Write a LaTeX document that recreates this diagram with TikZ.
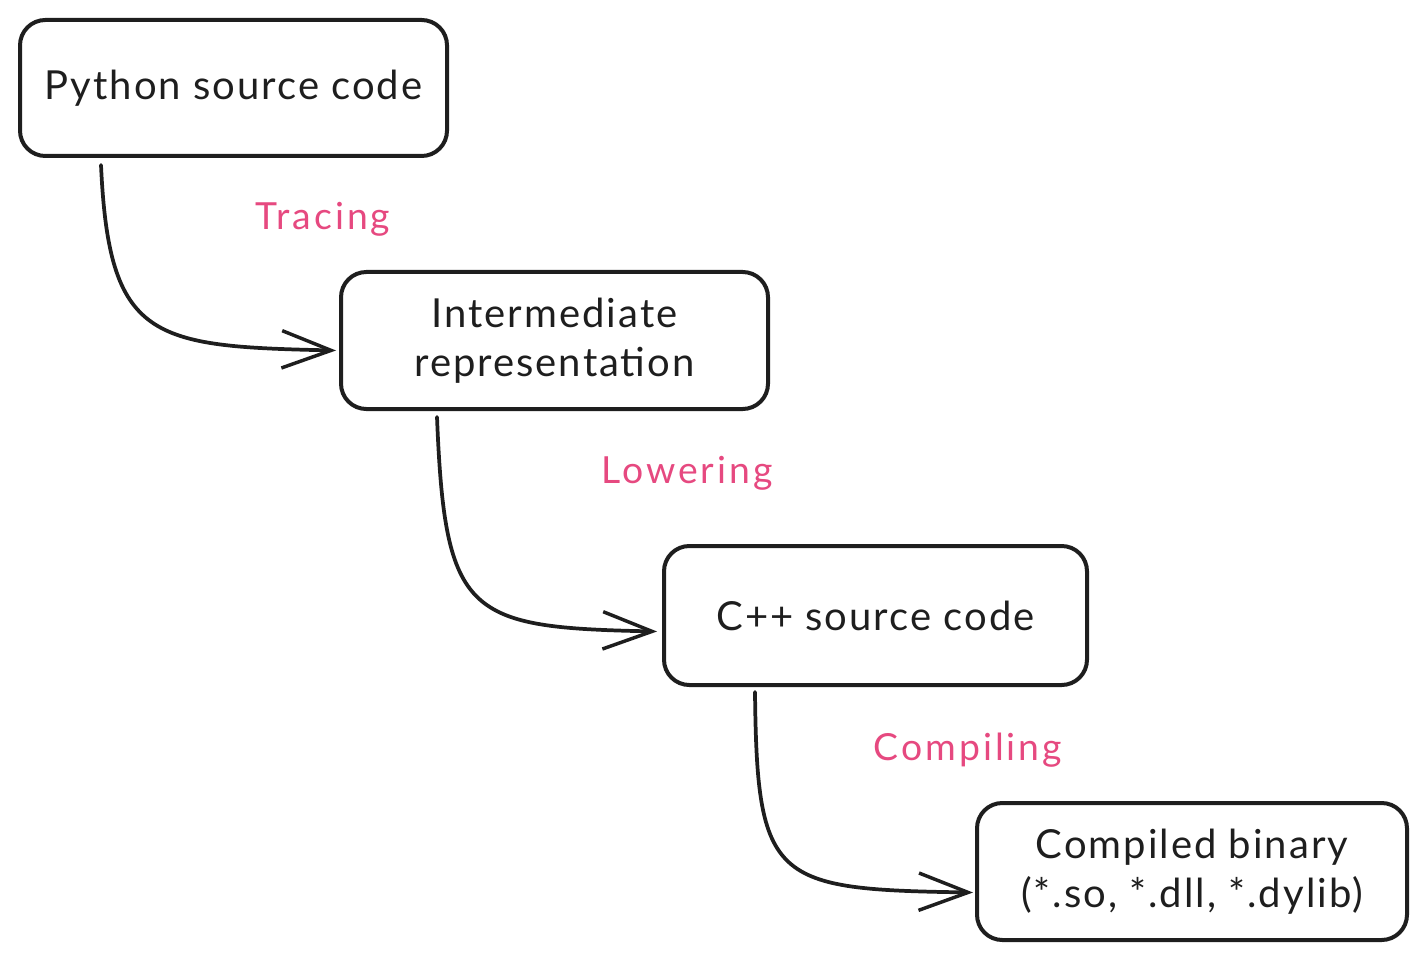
\documentclass[tikz,border=0pt]{standalone}
\usepackage{fontspec}
\setmainfont{Lato}
\newfontfamily\boxfont[LetterSpace=5]{Lato}
\newfontfamily\lblfont[LetterSpace=8]{Lato}
\usetikzlibrary{arrows.meta,calc}
\definecolor{ink}{HTML}{1E1E1E}
\definecolor{pinklbl}{HTML}{E64980}
\tikzset{
  box/.style={draw=ink, line width=3pt, rounded corners=19pt, align=center, text=ink,
    font=\boxfont\fontsize{30}{37}\selectfont, inner sep=0pt},
  flow/.style={draw=ink, line width=2.8pt, line cap=round,
    -{Straight Barb[length=37pt,width=28pt,line width=2.6pt]}},
  lbl/.style={text=pinklbl, font=\lblfont\fontsize{28}{32}\selectfont, inner sep=0pt}
}
\begin{document}
\begin{tikzpicture}[x=0.75pt,y=-0.75pt]
\useasboundingbox (0,0) rectangle (1427,959);
\node[box, minimum width=427*0.75pt, minimum height=136*0.75pt] (py) at (233.5,88) {Python source code};
\node[box, minimum width=427*0.75pt, minimum height=137*0.75pt] (ir) at (554.5,340.5) {Intermediate\\representation};
\node[box, minimum width=423*0.75pt, minimum height=139*0.75pt] (cpp) at (875.5,615.5) {C++ source code};
\node[box, minimum width=430*0.75pt, minimum height=137*0.75pt] (bin) at (1192,871.5) {Compiled binary\\(*.so, *.dll, *.dylib)};

\coordinate (a1s) at ($(py.south)+(-132.5,7)$);
\coordinate (a1e) at ($(ir.west)+(-3,10)$);
\coordinate (a2s) at ($(ir.south)+(-117.5,6)$);
\coordinate (a2e) at ($(cpp.west)+(-5,16)$);
\coordinate (a3s) at ($(cpp.south)+(-120.5,5)$);
\coordinate (a3e) at ($(bin.west)+(-2,21)$);

\draw[flow] (a1s) .. controls ($(a1s)+(8,175)$) and ($(a1e)+(-185,-4)$) .. (a1e);
\draw[flow] (a2s) .. controls ($(a2s)+(8,200)$) and ($(a2e)+(-190,-4)$) .. (a2e);
\draw[flow] (a3s) .. controls ($(a3s)+(2,190)$) and ($(a3e)+(-200,-3)$) .. (a3e);

\node[lbl] (t1) at (323,219) {Tracing};
\node[lbl] (t2) at (687,473) {Lowering};
\node[lbl] (t3) at (968,750) {Compiling};
\end{tikzpicture}
\end{document}
